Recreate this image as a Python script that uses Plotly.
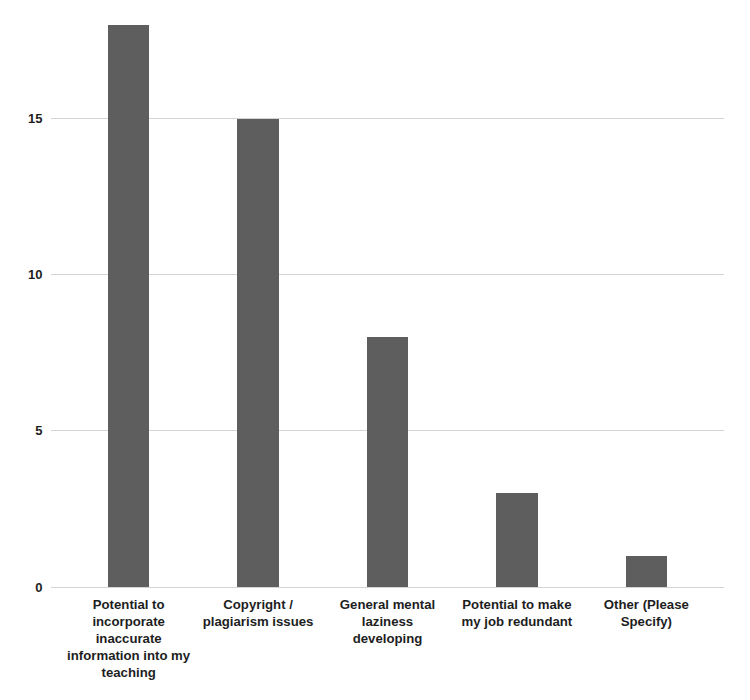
import plotly.graph_objects as go

categories = [
    "Potential to<br>incorporate<br>inaccurate<br>information into my<br>teaching",
    "Copyright /<br>plagiarism issues",
    "General mental<br>laziness<br>developing",
    "Potential to make<br>my job redundant",
    "Other (Please<br>Specify)",
]
values = [18, 15, 8, 3, 1]
y_ticks = [0, 5, 10, 15]

fig = go.Figure(
    go.Bar(
        x=list(range(len(categories))),
        y=values,
        marker=dict(color="#5e5e5e", line=dict(width=0)),
        width=0.32,
    )
)

fig.update_layout(
    width=750,
    height=700,
    margin=dict(l=43, r=34, t=17, b=121),
    paper_bgcolor="white",
    plot_bgcolor="white",
    font=dict(family="Liberation Sans, Arial, sans-serif", size=13, color="#1e1e1e"),
    showlegend=False,
    bargap=0,
)
fig.update_xaxes(
    tickmode="array",
    tickvals=list(range(len(categories))),
    ticktext=["<b>" + c.replace("<br>", "</b><br><b>") + "</b>" for c in categories],
    tickfont=dict(size=13.2),
    range=[-0.6, 4.6],
    showgrid=False,
    zeroline=False,
    showline=False,
    ticks="outside",
    ticklen=5,
    tickcolor="white",
)
fig.update_yaxes(
    range=[0, 18],
    tickmode="array",
    tickvals=y_ticks,
    ticktext=["<b>%d</b>" % t for t in y_ticks],
    showgrid=True,
    gridcolor="#d4d4d4",
    gridwidth=1,
    zeroline=True,
    zerolinecolor="#d4d4d4",
    zerolinewidth=1,
    showline=False,
    ticks="outside",
    ticklen=5,
    tickcolor="white",
)

fig.write_html("out.html")
